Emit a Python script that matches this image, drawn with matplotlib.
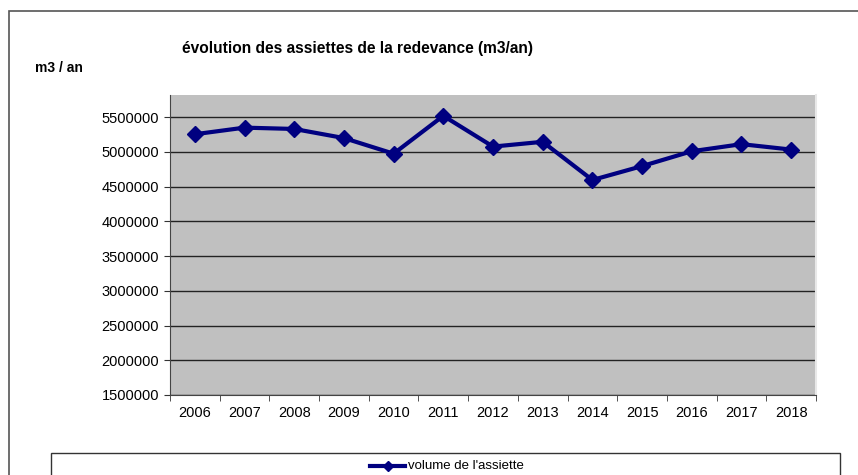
import matplotlib
matplotlib.use("Agg")
import matplotlib.pyplot as plt
from matplotlib.patches import Rectangle
from matplotlib.lines import Line2D
import numpy as np

years = ["2006", "2007", "2008", "2009", "2010", "2011", "2012",
         "2013", "2014", "2015", "2016", "2017", "2018"]
volume = [5255000, 5350000, 5331000, 5200000, 4975000, 5520000, 5077000,
          5146000, 4596000, 4796000, 5010000, 5112000, 5034000]
yticks = [1500000, 2000000, 2500000, 3000000, 3500000, 4000000, 4500000,
          5000000, 5500000]

title = "évolution des assiettes de la redevance (m3/an)"
ylabel = "m3 / an"
series_name = "volume de l'assiette"

plt.rcParams['font.family'] = ['Liberation Sans', 'DejaVu Sans']

W, H = 858, 475
fig = plt.figure(figsize=(W / 100, H / 100), dpi=100)
fig.patch.set_facecolor("white")

# outer chart frame
fig.add_artist(Rectangle((9 / W, -0.05), 1.0, 1 - 11 / H + 0.05,
                         transform=fig.transFigure, fill=False,
                         edgecolor="#555555", linewidth=1.2))

left, right, top, bottom = 170, 816, 95, 395
ax = fig.add_axes([left / W, 1 - bottom / H, (right - left) / W, (bottom - top) / H])
ax.set_facecolor("#C0C0C0")

x = np.arange(len(years))
ax.plot(x, volume, color="#000080", linewidth=3, marker="D", markersize=8.5,
        markerfacecolor="#000080", markeredgecolor="#000080", zorder=3)

ax.set_xlim(-0.5, len(years) - 0.5)
ax.set_ylim(1500000, 5820000)
ax.set_yticks(yticks)
ax.set_yticklabels([str(v) for v in yticks], fontsize=10.5)
ax.set_xticks(x)
ax.set_xticklabels(years, fontsize=10.5)
ax.set_xticks(np.arange(-0.5, len(years)), minor=True)
ax.tick_params(axis="x", which="major", length=0, pad=8)
ax.tick_params(axis="x", which="minor", length=4, color="#333333", direction="out")
ax.tick_params(axis="y", length=4, color="#333333", direction="out", pad=4)

ax.grid(axis="y", color="#222222", linewidth=1)
ax.set_axisbelow(True)
ax.spines["top"].set_visible(False)
ax.spines["right"].set_color("#E8E8E8")
ax.spines["right"].set_linewidth(1.5)
ax.spines["left"].set_color("#444444")
ax.spines["bottom"].set_color("#444444")

fig.text(357 / W, 1 - 48 / H, title, ha="center", va="center",
         fontsize=11.2, fontweight="bold")
fig.text(35 / W, 1 - 68 / H, ylabel, ha="left", va="center",
         fontsize=10, fontweight="bold")

# legend box
fig.add_artist(Rectangle((51 / W, -0.05), (840 - 51) / W, 1 - 453 / H + 0.05,
                         transform=fig.transFigure, fill=False,
                         edgecolor="#333333", linewidth=1.0))
lx0, lx1, ly = 370 / W, 405 / W, 1 - 466 / H
fig.add_artist(Line2D([lx0, lx1], [ly, ly], transform=fig.transFigure,
                      color="#000080", linewidth=3))
fig.add_artist(Line2D([(lx0 + lx1) / 2], [ly], transform=fig.transFigure,
                      marker="D", markersize=5, color="#000080"))
fig.text(408 / W, ly, series_name, ha="left", va="center", fontsize=9.5)

fig.savefig("out.png", dpi=100)
